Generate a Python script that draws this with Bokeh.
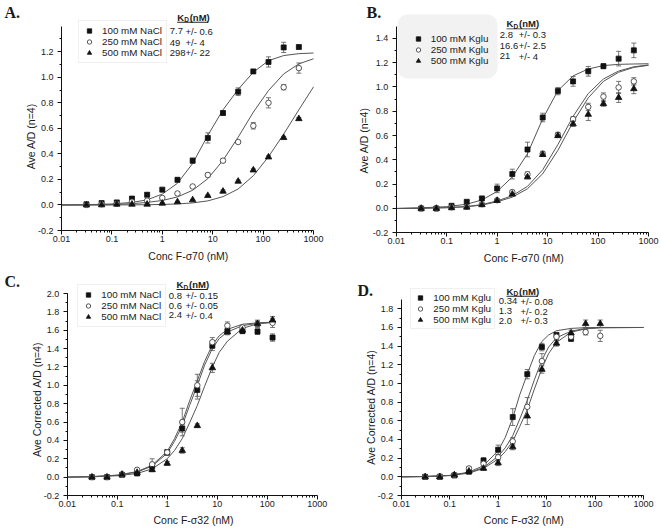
import math
import numpy as np
from bokeh.plotting import figure
from bokeh.layouts import gridplot
from bokeh.models import (ColumnDataSource, Whisker, TeeHead, Legend, LegendItem, Label,
                          FixedTicker, SingleIntervalTicker, NumeralTickFormatter, BoxAnnotation)
from bokeh.embed import file_html
from bokeh.resources import INLINE

# ------------------------------------------------------------------ data
x_ticks = [0.01, 0.1, 1, 10, 100, 1000]
x_tick_labels = ["0.01", "0.1", "1", "10", "100", "1000"]

conc = [0.03125, 0.0625, 0.125, 0.25, 0.5, 1, 2, 4, 8, 16, 32, 64, 128, 256, 512]
conc_s32 = [0.03125, 0.0625, 0.125, 0.25, 0.5, 1, 2, 4, 8, 16, 32, 64, 128]
conc_d100 = [0.03125, 0.0625, 0.125, 0.25, 0.5, 1, 2, 4, 8, 16, 32]

# Panel A  (sigma70, NaCl)
a_names = ["100 mM NaCl", "250 mM NaCl", "500 mM NaCl"]
a_kd = ["7.7", "49", "298"]
a_kd_err = ["+/- 0.6", "+/- 4", "+/- 22"]
a_100 = [0.005, 0.015, 0.02, 0.05, 0.08, 0.12, 0.197, 0.347, 0.525, 0.72, 0.887, 1.046, 1.12, 1.234, 1.237]
a_100_err = [0.005, 0.01, 0.01, 0.01, 0.015, 0.01, 0.015, 0.02, 0.04, 0.015, 0.03, 0.01, 0.04, 0.04, 0.01]
a_250 = [0.0, 0.005, 0.01, 0.025, 0.034, 0.055, 0.09, 0.145, 0.235, 0.347, 0.493, 0.62, 0.8, 0.922, 1.072]
a_250_err = [0.005, 0.005, 0.005, 0.005, 0.005, 0.005, 0.01, 0.01, 0.015, 0.015, 0.01, 0.025, 0.04, 0.02, 0.04]
a_500 = [0.0, 0.0, 0.005, 0.005, 0.005, 0.013, 0.024, 0.039, 0.073, 0.107, 0.185, 0.273, 0.375, 0.527, 0.675]
a_500_err = [0.005, 0.005, 0.005, 0.005, 0.005, 0.005, 0.005, 0.005, 0.005, 0.01, 0.01, 0.01, 0.01, 0.01, 0.01]
fit_x_ab = [0.01, 0.03, 0.1, 0.25, 0.5, 1, 2, 4, 8, 16, 32, 64, 128, 256, 512, 1000]
fit_a_100 = [0.0, 0.002, 0.008, 0.02, 0.04, 0.085, 0.17, 0.325, 0.545, 0.745, 0.905, 1.04, 1.13, 1.17, 1.185, 1.19]
fit_a_250 = [0.0, 0.0, 0.003, 0.01, 0.02, 0.035, 0.063, 0.115, 0.206, 0.349, 0.531, 0.727, 0.896, 1.026, 1.105, 1.145]
fit_a_500 = [0.0, 0.0, 0.0, 0.001, 0.002, 0.004, 0.008, 0.016, 0.032, 0.065, 0.125, 0.229, 0.378, 0.555, 0.745, 0.925]

# Panel B  (sigma70, Kglu)
b_names = ["100 mM Kglu", "250 mM Kglu", "500 mM Kglu"]
b_kd = ["2.8", "16.6", "21"]
b_kd_err = ["+/- 0.3", "+/- 2.5", "+/- 4"]
b_100 = [0.0, 0.0, 0.022, 0.055, 0.083, 0.165, 0.283, 0.485, 0.748, 0.965, 1.045, 1.128, 1.17, 1.232, 1.30]
b_100_err = [0.005, 0.005, 0.01, 0.01, 0.01, 0.035, 0.04, 0.06, 0.035, 0.03, 0.04, 0.04, 0.02, 0.06, 0.06]
b_250 = [0.0, 0.0, 0.01, 0.015, 0.035, 0.068, 0.135, 0.281, 0.45, 0.606, 0.735, 0.835, 0.92, 0.995, 1.045]
b_250_err = [0.005, 0.005, 0.005, 0.005, 0.005, 0.01, 0.015, 0.02, 0.02, 0.02, 0.02, 0.03, 0.03, 0.05, 0.03]
b_500 = [0.0, 0.0, 0.005, 0.01, 0.03, 0.065, 0.117, 0.259, 0.443, 0.598, 0.695, 0.773, 0.861, 0.912, 0.984]
b_500_err = [0.005, 0.005, 0.005, 0.005, 0.005, 0.01, 0.01, 0.015, 0.015, 0.015, 0.02, 0.05, 0.02, 0.04, 0.04]
fit_b_100 = [0.0, 0.005, 0.015, 0.035, 0.07, 0.14, 0.259, 0.45, 0.737, 0.969, 1.09, 1.147, 1.175, 1.185, 1.188, 1.19]
fit_b_250 = [0.0, 0.002, 0.007, 0.016, 0.032, 0.062, 0.105, 0.182, 0.318, 0.525, 0.757, 0.945, 1.065, 1.13, 1.165, 1.18]
fit_b_500 = [0.0, 0.002, 0.006, 0.014, 0.028, 0.055, 0.093, 0.162, 0.285, 0.478, 0.71, 0.91, 1.045, 1.12, 1.16, 1.177]

# Panel C  (sigma32, NaCl)
c_names = ["100 mM NaCl", "250 mM NaCl", "500 mM NaCl"]
c_kd = ["0.8", "0.6", "2.4"]
c_kd_err = ["+/- 0.15", "+/- 0.05", "+/- 0.4"]
c_100 = [0.0, 0.0, 0.025, 0.04, 0.12, 0.27, 0.53, 0.95, 1.43, 1.59, 1.59, 1.585, 1.52]
c_100_err = [0.01, 0.01, 0.01, 0.02, 0.02, 0.03, 0.04, 0.1, 0.05, 0.03, 0.02, 0.03, 0.04]
c_250 = [0.0, 0.0, 0.03, 0.08, 0.14, 0.27, 0.6, 1.0, 1.47, 1.65, 1.63, 1.67, 1.68]
c_250_err = [0.01, 0.01, 0.01, 0.01, 0.06, 0.03, 0.15, 0.12, 0.05, 0.04, 0.02, 0.03, 0.05]
c_500 = [0.0, 0.0, 0.03, 0.05, 0.08, 0.15, 0.29, 0.56, 1.19, 1.58, 1.60, 1.67, 1.71]
c_500_err = [0.01, 0.01, 0.01, 0.01, 0.02, 0.02, 0.03, 0.02, 0.05, 0.03, 0.03, 0.04, 0.04]
fit_x_c = [0.01, 0.03, 0.1, 0.25, 0.5, 1, 1.4, 2, 2.8, 4, 5.6, 8, 11, 16, 32, 64, 150]
fit_c_100 = [0.0, 0.005, 0.02, 0.055, 0.12, 0.26, 0.39, 0.56, 0.78, 1.0, 1.22, 1.4, 1.51, 1.58, 1.65, 1.675, 1.686]
fit_c_250 = [0.0, 0.005, 0.022, 0.06, 0.13, 0.28, 0.42, 0.6, 0.83, 1.05, 1.26, 1.44, 1.54, 1.61, 1.665, 1.68, 1.69]
fit_c_500 = [0.0, 0.003, 0.015, 0.04, 0.09, 0.2, 0.29, 0.42, 0.59, 0.78, 0.99, 1.2, 1.36, 1.48, 1.62, 1.67, 1.69]

# Panel D  (sigma32, Kglu)
d_names = ["100 mM Kglu", "250 mM Kglu", "500 mM Kglu"]
d_kd = ["0.34", "1.3", "2.0"]
d_kd_err = ["+/- 0.08", "+/- 0.2", "+/- 0.3"]
d_100 = [0.0, 0.0, 0.015, 0.055, 0.175, 0.29, 0.64, 1.10, 1.39, 1.52, 1.48]
d_100_err = [0.01, 0.01, 0.01, 0.02, 0.03, 0.05, 0.09, 0.05, 0.04, 0.02, 0.03]
d_250 = [0.0, 0.005, 0.02, 0.09, 0.14, 0.21, 0.38, 0.75, 1.24, 1.50, 1.50, 1.55, 1.51]
d_250_err = [0.01, 0.01, 0.01, 0.02, 0.02, 0.03, 0.04, 0.1, 0.08, 0.03, 0.03, 0.03, 0.06]
d_500 = [0.0, 0.0, 0.02, 0.06, 0.09, 0.15, 0.32, 0.65, 1.15, 1.43, 1.54, 1.64, 1.64]
d_500_err = [0.01, 0.01, 0.01, 0.02, 0.02, 0.03, 0.03, 0.09, 0.04, 0.03, 0.03, 0.04, 0.04]
fit_x_d = [0.01, 0.03, 0.1, 0.25, 0.5, 1, 1.4, 2, 2.8, 4, 5.6, 8, 11, 16, 32, 64, 128, 1000]
fit_d_100 = [0.0, 0.003, 0.015, 0.05, 0.12, 0.28, 0.42, 0.63, 0.88, 1.1, 1.3, 1.45, 1.52, 1.565, 1.59, 1.598, 1.6, 1.6]
fit_d_250 = [0.0, 0.003, 0.015, 0.045, 0.1, 0.22, 0.31, 0.44, 0.62, 0.82, 1.04, 1.25, 1.39, 1.49, 1.56, 1.59, 1.598, 1.6]
fit_d_500 = [0.0, 0.003, 0.013, 0.04, 0.09, 0.19, 0.27, 0.38, 0.54, 0.72, 0.94, 1.16, 1.32, 1.44, 1.55, 1.585, 1.597, 1.6]

# ------------------------------------------------------------------ layout (page pixels)
LAY = {
    "A": dict(ox=0, oy=0, w=328, h=265, xpx=(61, 313), ymap=((-0.2, 230), (1.4, 25.7)), ytop=1.4),
    "B": dict(ox=328, oy=0, w=332, h=265, xpx=(395.7, 648), ymap=((-0.2, 232.3), (1.4, 37.7)), ytop=1.5),
    "C": dict(ox=0, oy=265, w=328, h=263, xpx=(66.7, 316.7), ymap=((-0.2, 495), (2.0, 293)), ytop=2.0),
    "D": dict(ox=328, oy=265, w=332, h=263, xpx=(400.7, 643), ymap=((-0.2, 495), (1.8, 308.3)), ytop=1.9),
}
TXT = {
    "A": dict(letter=(4, 12), hdr=(176.7, 16.7), vals_x=169.3, errs_x=185, rows=[30.5, 42, 52.3],
              leg=(88, 30.7, 4), box=None, xlab=(187.8, 255.5), ylab=(30, 135.8)),
    "B": dict(letter=(366, 12), hdr=(506, 23.3), vals_x=499.3, errs_x=518.3, rows=[34.3, 45, 55.6],
              leg=(421.7, 34.3, 4), box=(397, 497, 14, 78), xlab=(523.3, 257), ylab=(363.3, 140)),
    "C": dict(letter=(4, 280.5), hdr=(176, 284), vals_x=168.3, errs_x=185, rows=[295.3, 305.3, 314.5],
              leg=(87.3, 295.3, 4), box=None, xlab=(193, 519), ylab=(36, 399)),
    "D": dict(letter=(357, 290), hdr=(506, 290.7), vals_x=498.3, errs_x=520, rows=[300.5, 310.5, 320],
              leg=(419.3, 298, 3), box=None, xlab=(523.3, 519), ylab=(370, 406.7)),
}
FONT = "Liberation Sans"
ROW_H = 11.2
INK = "#1a1a1a"


class Map:
    def __init__(self, L):
        xa, xb = L["xpx"]
        self.xa = xa
        self.per = 5.0 / (xb - xa)
        (self.vlo, self.plo), (vhi, phi) = L["ymap"]
        self.upp = (vhi - self.vlo) / (self.plo - phi)

    def x(self, px):
        return 10 ** (-2 + self.per * (px - self.xa))

    def y(self, py):
        return self.vlo + self.upp * (self.plo - py)


def label(p, M, px, py, s, size="10px", font=FONT, style="normal", align="left", angle=0.0):
    p.add_layout(Label(x=M.x(px), y=M.y(py), text=s, text_font=font, text_font_size=size,
                       text_font_style=style, text_baseline="middle", text_align=align,
                       text_color=INK, angle=angle))


MARKERS = [
    dict(marker="square", size=5, fill_color="#111111", line_color="#111111", line_width=0.8),
    dict(marker="circle", size=5.5, fill_color="white", line_color="#444444", line_width=0.9),
    dict(marker="triangle", size=6.5, fill_color="#111111", line_color="#111111", line_width=0.8),
]


def make_panel(key, xlabel, ylabel, letter, series, fit_x, fits, names, kd, kd_err):
    L = LAY[key]
    T = TXT[key]
    M = Map(L)
    ox, oy, w, h = L["ox"], L["oy"], L["w"], L["h"]
    p = figure(width=w, height=h, x_axis_type="log",
               x_range=(M.x(ox), M.x(ox + w)), y_range=(M.y(oy + h), M.y(oy)),
               output_backend="svg", toolbar_location=None,
               min_border_left=0, min_border_right=0, min_border_top=0, min_border_bottom=0)
    p.outline_line_color = None
    p.xgrid.visible = False
    p.ygrid.visible = False
    p.xaxis.ticker = FixedTicker(ticks=x_ticks,
                                 minor_ticks=[k * 10.0 ** e for e in range(-2, 3) for k in range(2, 10)])
    p.xaxis.major_label_overrides = {t: s for t, s in zip(x_ticks, x_tick_labels)}
    p.xaxis.fixed_location = -0.2
    p.xaxis.bounds = (0.01, 1000)
    p.yaxis.ticker = SingleIntervalTicker(interval=0.2, num_minor_ticks=2)
    p.yaxis.formatter = NumeralTickFormatter(format="0.0")
    p.yaxis.fixed_location = 0.01
    p.yaxis.bounds = (-0.2, L["ytop"])
    for ax in (p.xaxis[0], p.yaxis[0]):
        ax.axis_line_color = "#111111"
        ax.major_tick_line_color = "#111111"
        ax.minor_tick_line_color = "#111111"
        ax.major_tick_in = 0
        ax.major_tick_out = 4
        ax.minor_tick_in = 0
        ax.minor_tick_out = 2
        ax.major_label_text_font = FONT
        ax.major_label_text_font_size = "9px"
        ax.major_label_text_color = INK
    p.xaxis.major_label_standoff = 1
    p.yaxis.major_label_standoff = 4

    if T["box"] is not None:
        bl, br, bt, bb = T["box"]
        p.add_layout(BoxAnnotation(left=M.x(bl), right=M.x(br), top=M.y(bt), bottom=M.y(bb),
                                   fill_color="#f2f2f2", fill_alpha=1.0, line_alpha=0,
                                   border_radius=10, level="underlay"))

    for fy in fits:
        p.line(fit_x, fy, line_color="#555555", line_width=1)

    rends = []
    for (xs, ys, es), mk in zip(series, MARKERS):
        y = np.array(ys)
        e = np.array(es)
        src = ColumnDataSource(dict(x=xs, y=ys, up=list(y + e), lo=list(y - e)))
        p.add_layout(Whisker(source=src, base="x", upper="up", lower="lo",
                             line_color="#555555", line_width=0.8,
                             upper_head=TeeHead(size=5, line_color="#555555", line_width=0.8),
                             lower_head=TeeHead(size=5, line_color="#555555", line_width=0.8)))
        rends.append(p.scatter("x", "y", source=src, **mk))

    gx, ry, pad = T["leg"]
    gw = 12
    left = gx - gw / 2 - pad
    top = ry - ROW_H / 2 - pad
    bottom = top + 2 * pad + 3 * ROW_H
    border = None if T["box"] is not None else "#e2e2e2"
    leg = Legend(items=[LegendItem(label=n, renderers=[r]) for n, r in zip(names, rends)],
                 location=(left - ox, oy + h - bottom), orientation="vertical",
                 glyph_width=gw, glyph_height=11, label_height=11, label_standoff=7, spacing=0,
                 padding=pad, margin=0, label_text_font=FONT, label_text_font_size="9.8px",
                 label_text_color=INK, background_fill_alpha=0.0,
                 border_line_color=border, border_line_width=1)
    p.add_layout(leg, "center")

    hx, hy = T["hdr"]
    label(p, M, hx, hy, "K", size="9.5px", style="bold")
    label(p, M, hx + 7, hy + 2.5, "D", size="6.5px", style="bold")
    label(p, M, hx + 12.5, hy, "(nM)", size="9.5px", style="bold")
    p.add_layout(BoxAnnotation(left=M.x(hx), right=M.x(hx + 31), top=M.y(hy + 4.6),
                               bottom=M.y(hy + 5.5), fill_color="#222222", fill_alpha=1.0,
                               line_alpha=0))
    for v, e, r in zip(kd, kd_err, T["rows"]):
        label(p, M, T["vals_x"], r, v, size="9.5px")
        label(p, M, T["errs_x"], r, e, size="9.5px")

    xlx, xly = T["xlab"]
    label(p, M, xlx, xly, xlabel, size="10.5px", align="center")
    ylx, yly = T["ylab"]
    label(p, M, ylx, yly, ylabel, size="10.5px", align="center", angle=math.pi / 2)
    lx, ly = T["letter"]
    label(p, M, lx, ly, letter, size="16px", font="Liberation Serif", style="bold")
    return p


pA = make_panel("A", "Conc F-\u03c370 (nM)", "Ave A/D (n=4)", "A.",
                [(conc, a_100, a_100_err), (conc, a_250, a_250_err), (conc, a_500, a_500_err)],
                fit_x_ab, [fit_a_100, fit_a_250, fit_a_500], a_names, a_kd, a_kd_err)
pB = make_panel("B", "Conc F-\u03c370 (nM)", "Ave A/D (n=4)", "B.",
                [(conc, b_100, b_100_err), (conc, b_250, b_250_err), (conc, b_500, b_500_err)],
                fit_x_ab, [fit_b_100, fit_b_250, fit_b_500], b_names, b_kd, b_kd_err)
pC = make_panel("C", "Conc F-\u03c332 (nM)", "Ave Corrected A/D (n=4)", "C.",
                [(conc_s32, c_100, c_100_err), (conc_s32, c_250, c_250_err), (conc_s32, c_500, c_500_err)],
                fit_x_c, [fit_c_100, fit_c_250, fit_c_500], c_names, c_kd, c_kd_err)
pD = make_panel("D", "Conc F-\u03c332 (nM)", "Ave Corrected A/D (n=4)", "D.",
                [(conc_d100, d_100, d_100_err), (conc_s32, d_250, d_250_err), (conc_s32, d_500, d_500_err)],
                fit_x_d, [fit_d_100, fit_d_250, fit_d_500], d_names, d_kd, d_kd_err)

grid = gridplot([[pA, pB], [pC, pD]], toolbar_location=None)
open("out.html", "w").write(file_html(grid, INLINE))
